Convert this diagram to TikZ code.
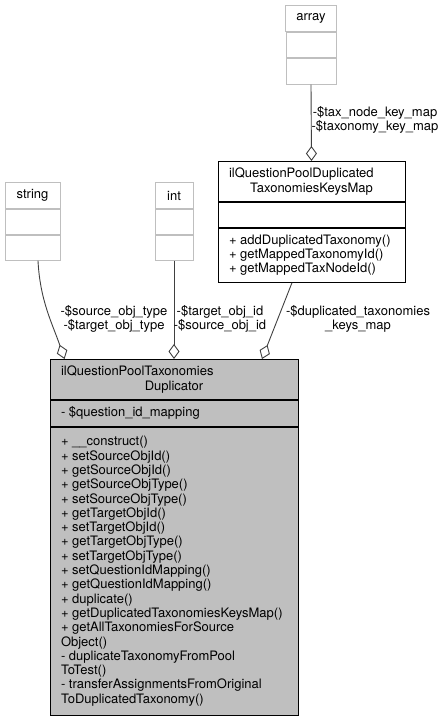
\documentclass[tikz,border=0pt]{standalone}
\usepackage{fontspec}
\setmainfont{TeX Gyre Heros}
\usetikzlibrary{positioning,arrows.meta}
\newcommand{\umlfont}{\fontsize{13}{14.3}\selectfont\hyphenpenalty=10000 }

\begin{document}
\begin{tikzpicture}[x=1pt,y=-1pt,node distance=0pt]
    \tikzstyle{umlbox}=[draw=black,line width=0.9pt,inner xsep=11pt,inner ysep=2pt,font=\umlfont,align=flush left]
    \tikzstyle{extbox}=[umlbox,draw=black!25,align=center]
    \tikzstyle{curbox}=[umlbox,fill=black!25]
    \tikzstyle{assoc}=[-{Diamond[open,length=15pt,width=11pt]},draw=black!75,line width=0.9pt]
    \tikzstyle{role}=[font=\umlfont,align=center,inner sep=0pt]
    \useasboundingbox (0,0) rectangle (446,720);

    % external types
    \node[extbox,minimum width=50pt,minimum height=26pt,anchor=north] (arr-t) at (311,5) {array};
    \node[extbox,minimum width=50pt,minimum height=25pt,below=of arr-t] (arr-a) {};
    \node[extbox,minimum width=50pt,minimum height=26pt,below=of arr-a] (arr-m) {};

    \node[extbox,minimum width=55pt,minimum height=26pt,anchor=north] (str-t) at (32.5,182) {string};
    \node[extbox,minimum width=55pt,minimum height=25pt,below=of str-t] (str-a) {};
    \node[extbox,minimum width=55pt,minimum height=25pt,below=of str-a] (str-m) {};

    \node[extbox,minimum width=38pt,minimum height=26pt,anchor=north] (int-t) at (174,182) {int};
    \node[extbox,minimum width=38pt,minimum height=25pt,below=of int-t] (int-a) {};
    \node[extbox,minimum width=38pt,minimum height=25pt,below=of int-a] (int-m) {};

    % keys map class
    \node[umlbox,text width=165pt,minimum height=40pt,anchor=north] (map-t) at (311.5,161)
        {ilQuestionPoolDuplicated\\\makebox[\linewidth]{TaxonomiesKeysMap}};
    \node[umlbox,text width=165pt,minimum height=25pt,below=of map-t] (map-a) {};
    \node[umlbox,text width=165pt,minimum height=54pt,below=of map-a] (map-m)
        {+~addDuplicatedTaxonomy()\\+~getMappedTaxonomyId()\\+~getMappedTaxNodeId()};

    % duplicator class
    \node[curbox,text width=226pt,minimum height=40pt,anchor=north] (main-t) at (174,359)
        {ilQuestionPoolTaxonomies\\\makebox[\linewidth]{Duplicator}};
    \node[curbox,text width=226pt,minimum height=26pt,below=of main-t] (main-a) {-~\$question\_id\_mapping};
    \node[curbox,text width=226pt,minimum height=288pt,below=of main-a] (main-m)
        {+~\_\_construct()\\+~setSourceObjId()\\+~getSourceObjId()\\+~getSourceObjType()\\
         +~setSourceObjType()\\+~getTargetObjId()\\+~setTargetObjId()\\+~getTargetObjType()\\
         +~setTargetObjType()\\+~setQuestionIdMapping()\\+~getQuestionIdMapping()\\+~duplicate()\\
         +~getDuplicatedTaxonomiesKeysMap()\\+~getAllTaxonomiesForSource\\Object()\\
         -~duplicateTaxonomyFromPool\\ToTest()\\-~transferAssignmentsFromOriginal\\ToDuplicatedTaxonomy()};

    % aggregations
    \draw[assoc] (arr-m.south) -- (map-t.north);
    \draw[assoc] ([xshift=5.5pt]str-m.south) .. controls +(2,40) and +(-12,-35) .. ([xshift=15pt]main-t.north west);
    \draw[assoc] (int-m.south) -- (main-t.north);
    \draw[assoc] ([xshift=-19.5pt]map-m.south) -- ([xshift=88pt]main-t.north);

    % role names
    \node[role] (r-arr) at (375,120) {-\$tax\_node\_key\_map\\-\$taxonomy\_key\_map};
    \node[role] (r-str) at (114,319) {-\$source\_obj\_type\\-\$target\_obj\_type};
    \node[role] (r-int) at (220,319) {-\$target\_obj\_id\\-\$source\_obj\_id};
    \node[role] (r-map) at (358,319) {-\$duplicated\_taxonomies\\\_keys\_map};
\end{tikzpicture}
\end{document}
